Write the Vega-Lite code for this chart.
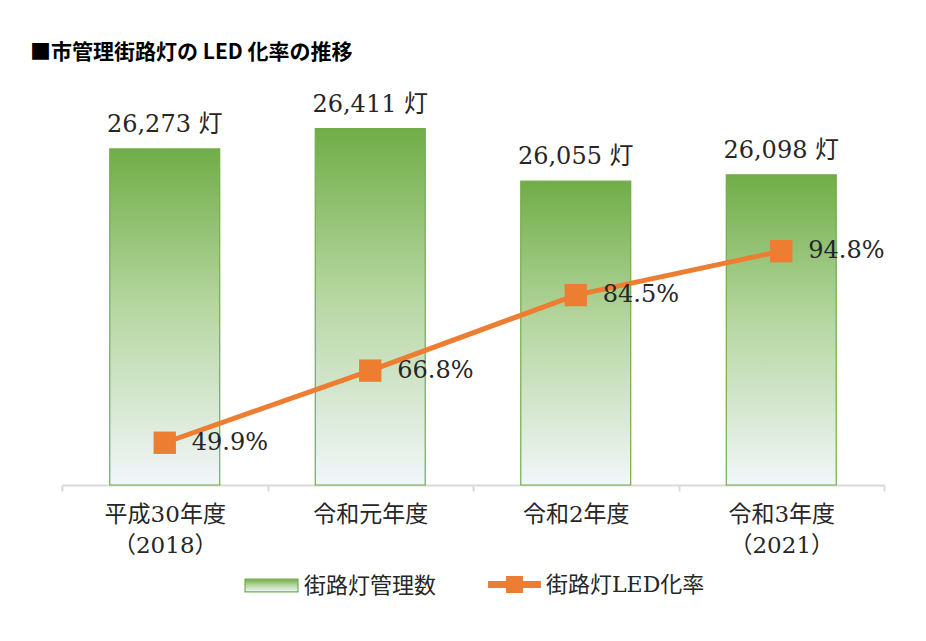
{
  "$schema": "https://vega.github.io/schema/vega-lite/v6.json",
  "width": 822,
  "height": 414,
  "autosize": {"type": "none"},
  "padding": {"left": 62, "top": 71, "right": 42, "bottom": 156},
  "background": "white",
  "config": {"view": {"stroke": null}},
  "title": {
    "text": "■市管理街路灯の LED 化率の推移",
    "anchor": "start",
    "frame": "group",
    "dx": -32,
    "offset": 8,
    "font": "Noto Sans CJK JP",
    "fontWeight": "bold",
    "fontSize": 21,
    "color": "#000000"
  },
  "data": {
    "values": [
      {"year": "平成30年度\n（2018）", "count": 26273, "countLabel": "26,273 灯", "rate": 0.499},
      {"year": "令和元年度", "count": 26411, "countLabel": "26,411 灯", "rate": 0.668},
      {"year": "令和2年度", "count": 26055, "countLabel": "26,055 灯", "rate": 0.845},
      {"year": "令和3年度\n（2021）", "count": 26098, "countLabel": "26,098 灯", "rate": 0.948}
    ]
  },
  "encoding": {
    "x": {
      "field": "year",
      "type": "nominal",
      "sort": null,
      "scale": {"paddingInner": 0, "paddingOuter": 0},
      "axis": {
        "title": null,
        "labelAngle": 0,
        "grid": false,
        "domainColor": "#d9d9d9",
        "domainWidth": 2,
        "tickColor": "#d9d9d9",
        "tickWidth": 2,
        "tickSize": 6,
        "tickBand": "extent",
        "labelFont": "DejaVu Serif, Noto Sans CJK JP",
        "labelFontSize": 23,
        "labelColor": "#262626",
        "labelPadding": 12,
        "labelLineHeight": 31,
        "labelBaseline": "top",
        "labelExpr": "split(datum.label, '\\n')"
      }
    }
  },
  "layer": [
    {
      "mark": {
        "type": "bar",
        "width": {"band": 0.535},
        "stroke": "#70ad47",
        "strokeWidth": 1.2,
        "fill": {
          "gradient": "linear",
          "x1": 0, "y1": 0, "x2": 0, "y2": 1,
          "stops": [
            {"offset": 0, "color": "#70ad47"},
            {"offset": 0.45, "color": "#b3d59d"},
            {"offset": 1, "color": "#f2f6fa"}
          ]
        }
      },
      "encoding": {
        "y": {"field": "count", "type": "quantitative", "scale": {"domain": [24000, 26800], "zero": false}, "axis": null},
        "y2": {"datum": 24000},
        "opacity": {
          "datum": "街路灯管理数",
          "type": "nominal",
          "scale": {"range": [1]},
          "legend": {
            "title": null,
            "orient": "none",
            "legendX": 182,
            "legendY": 487,
            "direction": "horizontal",
            "labelFont": "DejaVu Serif, Noto Sans CJK JP",
            "labelFontSize": 22,
            "labelColor": "#262626",
            "labelOffset": 5,
            "symbolSize": 2800,
            "symbolType": "M-1,-0.24H1V0.24H-1Z",
            "symbolStrokeWidth": 1.2
          }
        }
      }
    },
    {
      "mark": {
        "type": "text",
        "baseline": "alphabetic",
        "dy": -17,
        "font": "DejaVu Serif, Noto Sans CJK JP",
        "fontSize": 24,
        "color": "#262626"
      },
      "encoding": {
        "y": {"field": "count", "type": "quantitative", "scale": {"domain": [24000, 26800], "zero": false}, "axis": null},
        "text": {"field": "countLabel"}
      }
    },
    {
      "mark": {"type": "line", "strokeWidth": 5, "color": "#ed7d31"},
      "encoding": {
        "y": {"field": "rate", "type": "quantitative", "scale": {"domain": [0.4, 1.37], "zero": false}, "axis": null}
      }
    },
    {
      "mark": {"type": "square", "size": 500, "filled": true, "opacity": 1},
      "encoding": {
        "y": {"field": "rate", "type": "quantitative", "scale": {"domain": [0.4, 1.37], "zero": false}, "axis": null},
        "color": {
          "datum": "街路灯LED化率",
          "type": "nominal",
          "scale": {"range": ["#ed7d31"]},
          "legend": {
            "title": null,
            "orient": "none",
            "legendX": 426,
            "legendY": 487,
            "direction": "horizontal",
            "labelFont": "DejaVu Serif, Noto Sans CJK JP",
            "labelFontSize": 22,
            "labelColor": "#262626",
            "labelOffset": 5,
            "symbolSize": 2800,
            "symbolType": "M-1,-0.13H-0.32V-0.32H0.32V-0.13H1V0.13H0.32V0.32H-0.32V0.13H-1Z",
            "symbolStrokeWidth": 0
          }
        }
      }
    },
    {
      "mark": {
        "type": "text",
        "align": "left",
        "baseline": "middle",
        "dx": 27,
        "font": "DejaVu Serif",
        "fontSize": 24,
        "color": "#262626"
      },
      "encoding": {
        "y": {"field": "rate", "type": "quantitative", "scale": {"domain": [0.4, 1.37], "zero": false}, "axis": null},
        "text": {"field": "rate", "format": ".1%"}
      }
    }
  ],
  "resolve": {"scale": {"y": "independent"}}
}
